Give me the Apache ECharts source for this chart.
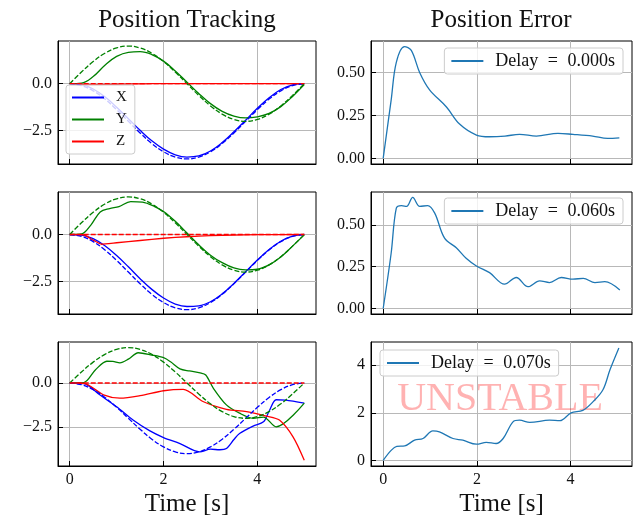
<!DOCTYPE html>
<html>
<head>
<meta charset="utf-8">
<script src="https://cdn.jsdelivr.net/npm/echarts@6/dist/echarts.min.js"></script>
<style>
html, body { margin: 0; padding: 0; background: #fff; }
#main { width: 639px; height: 521px; }
</style>
</head>
<body>
<div id="main"></div>
<script>
// reference trajectory, sampled every 0.25 s
var T = [0, 0.25, 0.5, 0.75, 1, 1.25, 1.5, 1.75, 2, 2.25, 2.5, 2.75, 3, 3.25, 3.5, 3.75, 4, 4.25, 4.5, 4.75, 5];
var xRef = [0, -0.10, -0.38, -0.82, -1.38, -2.00, -2.62, -3.18, -3.62, -3.90, -4.00, -3.90, -3.62, -3.18, -2.62, -2.00, -1.38, -0.82, -0.38, -0.10, 0];
var yRef = [0, 0.62, 1.18, 1.62, 1.90, 2.00, 1.90, 1.62, 1.18, 0.62, 0, -0.62, -1.18, -1.62, -1.90, -2.00, -1.90, -1.62, -1.18, -0.62, 0];
var zRef = [0, 0, 0, 0, 0, 0, 0, 0, 0, 0, 0, 0, 0, 0, 0, 0, 0, 0, 0, 0, 0];

// delay = 0.000 s (same time grid)
var x1 = [0, -0.04, -0.28, -0.70, -1.25, -1.86, -2.48, -3.04, -3.48, -3.78, -3.90, -3.84, -3.58, -3.13, -2.56, -1.94, -1.31, -0.75, -0.31, -0.06, 0];
var y1 = [0, 0.03, 0.38, 0.98, 1.45, 1.67, 1.70, 1.55, 1.20, 0.68, 0.08, -0.52, -1.06, -1.47, -1.72, -1.82, -1.76, -1.58, -1.22, -0.68, -0.05];
var z1 = [0, -0.04, -0.05, -0.04, -0.03, -0.02, -0.01, 0, 0, 0, 0, 0, 0, 0, 0, 0, 0, 0, 0, 0, 0];

// delay = 0.060 s
var x2 = [0, -0.03, -0.22, -0.60, -1.12, -1.72, -2.35, -2.92, -3.38, -3.70, -3.83, -3.80, -3.58, -3.16, -2.60, -1.98, -1.36, -0.80, -0.36, -0.09, 0];
var y2 = [[0, 0], [0.25, 0.03], [0.45, 0.5], [0.65, 1.2], [0.85, 1.38], [1.05, 1.48], [1.3, 1.75], [1.55, 1.72], [1.8, 1.5], [2.0, 1.22],
  [2.25, 0.7], [2.5, 0.08], [2.75, -0.55], [3.0, -1.1], [3.25, -1.5], [3.5, -1.78], [3.75, -1.88], [4.0, -1.85], [4.25, -1.62],
  [4.5, -1.2], [4.75, -0.62], [5.0, -0.02]];
var z2 = [[0, 0], [0.3, -0.02], [0.5, -0.3], [0.68, -0.52], [1.0, -0.44], [1.5, -0.32], [2.0, -0.2], [2.5, -0.12], [3.0, -0.06],
  [3.5, -0.03], [4.0, -0.01], [5.0, 0]];

// delay = 0.070 s
var x3 = [[0, 0], [0.3, -0.03], [0.64, -0.67], [1.0, -1.35], [1.35, -2.1], [1.7, -2.7], [2.0, -3.09], [2.35, -3.43], [2.77, -3.9],
  [3.0, -3.75], [3.2, -3.78], [3.34, -3.71], [3.5, -3.2], [3.62, -2.86], [3.91, -2.44], [4.13, -2.2], [4.25, -1.6], [4.4, -0.95],
  [4.6, -0.97], [5.0, -1.14]];
var y3 = [[0, 0], [0.3, 0.02], [0.55, 0.75], [0.79, 1.23], [0.92, 1.22], [1.07, 1.14], [1.25, 1.35], [1.46, 1.71], [1.75, 1.58],
  [2.0, 1.43], [2.15, 1.2], [2.35, 0.8], [2.55, 0.68], [2.78, 0.57], [2.9, 0.45], [3.06, -0.29], [3.34, -1.24], [3.62, -1.71],
  [3.91, -2.0], [4.13, -1.93], [4.4, -2.48], [5.0, -1.14]];
var z3 = [[0, 0], [0.3, -0.02], [0.72, -0.67], [1.07, -0.86], [1.5, -0.72], [2.0, -0.44], [2.42, -0.36], [2.84, -1.05],
  [3.34, -1.49], [3.77, -1.62], [4.19, -1.87], [4.47, -2.1], [4.76, -3.05], [5.0, -4.38]];

// position error
var err1 = [[0, 0], [0.17, 0.34], [0.28, 0.56], [0.455, 0.652], [0.6, 0.63], [0.78, 0.5], [0.99, 0.4], [1.35, 0.3], [1.63, 0.2],
  [1.99, 0.136], [2.27, 0.126], [2.6, 0.13], [2.91, 0.14], [3.27, 0.13], [3.73, 0.146], [4.05, 0.14], [4.47, 0.13], [4.79, 0.117], [5.04, 0.12]];
var err2 = [[0, 0], [0.17, 0.33], [0.28, 0.6], [0.39, 0.615], [0.5, 0.61], [0.63, 0.664], [0.78, 0.61], [0.95, 0.615], [1.1, 0.57],
  [1.31, 0.42], [1.56, 0.363], [1.77, 0.3], [1.99, 0.254], [2.27, 0.214], [2.59, 0.145], [2.84, 0.185], [3.09, 0.13], [3.34, 0.165],
  [3.55, 0.155], [3.8, 0.185], [4.05, 0.175], [4.27, 0.18], [4.52, 0.155], [4.73, 0.16], [5.05, 0.11]];
var err3 = [[0, 0], [0.17, 0.42], [0.29, 0.59], [0.46, 0.61], [0.67, 0.85], [0.85, 0.92], [1.06, 1.24], [1.2, 1.2], [1.49, 0.92],
  [1.7, 0.85], [1.99, 0.68], [2.2, 0.76], [2.41, 0.71], [2.56, 0.92], [2.77, 1.62], [2.91, 1.69], [3.13, 1.6], [3.55, 1.69],
  [3.77, 1.67], [4.01, 2.0], [4.26, 2.1], [4.48, 2.47], [4.69, 2.97], [4.84, 3.81], [5.03, 4.73]];

var delays = ['Delay = 0.000s', 'Delay = 0.060s', 'Delay = 0.070s'];
var xTicks = [0, 2, 4];
var yTicks = [[-2.5, 0], [0, 0.25, 0.5], [-2.5, 0], [0, 0.25, 0.5], [-2.5, 0], [0, 2, 4]];
var yLimits = [[-4.27, 2.27], [-0.033, 0.685], [-4.23, 2.26], [-0.033, 0.696], [-4.70, 2.32], [-0.237, 4.98]];

var FONT = '"Liberation Serif", "Times New Roman", serif';
var BLUE = '#0000ff', GREEN = '#008000', RED = '#ff0000', C0 = '#1f77b4';

function onGrid(arr) {
  return arr.map(function (v, i) { return [T[i], v]; });
}
function minus(s) { return s.replace('-', '\u2212'); }

var rows = [{ top: 41, height: 123 }, { top: 192, height: 122 }, { top: 342, height: 124 }];
var grids = [], xAxes = [], yAxes = [];
for (var r = 0; r < 3; r++) {
  for (var c = 0; c < 2; c++) {
    var i = r * 2 + c;
    grids.push({
      left: c ? 371 : 58, width: c ? 261 : 258, top: rows[r].top, height: rows[r].height,
      show: true, borderColor: '#000', borderWidth: 1, containLabel: false, outerBoundsMode: 'none'
    });
    xAxes.push({
      type: 'value', gridIndex: i, min: c ? -0.26 : -0.25, max: c ? 5.31 : 5.25,
      axisLine: { show: true, onZero: false, lineStyle: { color: '#000', width: 1 } },
      axisTick: { show: true, inside: true, length: 5, customValues: xTicks, lineStyle: { color: '#000', width: 1 } },
      axisLabel: { show: r === 2, customValues: xTicks, fontSize: 16, color: '#111', fontFamily: FONT, margin: 6 },
      splitLine: { show: true, lineStyle: { color: '#b8b8b8', width: 1 } },
      name: r === 2 ? 'Time [s]' : '', nameLocation: 'middle', nameGap: 26,
      nameTextStyle: { fontSize: 25, color: '#111', fontFamily: FONT }
    });
    yAxes.push({
      type: 'value', gridIndex: i, min: yLimits[i][0], max: yLimits[i][1],
      axisLine: { show: true, onZero: false, lineStyle: { color: '#000', width: 1 } },
      axisTick: { show: true, inside: true, length: 5, customValues: yTicks[i], lineStyle: { color: '#000', width: 1 } },
      axisLabel: {
        customValues: yTicks[i], fontSize: 16, color: '#111', fontFamily: FONT, margin: 6,
        formatter: (function (cc, rr) {
          return function (v) {
            if (!cc) return minus(v.toFixed(1));
            return rr === 2 ? String(v) : v.toFixed(2);
          };
        })(c, r)
      },
      splitLine: { show: true, lineStyle: { color: '#b8b8b8', width: 1 } }
    });
  }
}

function line(name, idx, data, color, dashed, smooth) {
  return {
    type: 'line', name: name, xAxisIndex: idx, yAxisIndex: idx, data: data,
    symbol: 'none', smooth: smooth, animation: false,
    lineStyle: { color: color, width: 1.3, type: dashed ? [5, 2] : 'solid' },
    itemStyle: { color: color },
    emphasis: { disabled: true },
    z: dashed ? 3 : 2
  };
}

var series = [
  line('X', 0, onGrid(x1), BLUE, false, 0.4),
  line('Y', 0, onGrid(y1), GREEN, false, 0.4),
  line('Z', 0, onGrid(z1), RED, false, 0.4),
  line('X ref 1', 0, onGrid(xRef), BLUE, true, 0.4),
  line('Y ref 1', 0, onGrid(yRef), GREEN, true, 0.4),
  line('Z ref 1', 0, onGrid(zRef), RED, true, false),

  line('X 2', 2, onGrid(x2), BLUE, false, 0.4),
  line('Y 2', 2, y2, GREEN, false, 0.35),
  line('Z 2', 2, z2, RED, false, 0.15),
  line('X ref 2', 2, onGrid(xRef), BLUE, true, 0.4),
  line('Y ref 2', 2, onGrid(yRef), GREEN, true, 0.4),
  line('Z ref 2', 2, onGrid(zRef), RED, true, false),

  line('X 3', 4, x3, BLUE, false, 0.3),
  line('Y 3', 4, y3, GREEN, false, 0.3),
  line('Z 3', 4, z3, RED, false, 0.3),
  line('X ref 3', 4, onGrid(xRef), BLUE, true, 0.4),
  line('Y ref 3', 4, onGrid(yRef), GREEN, true, 0.4),
  line('Z ref 3', 4, onGrid(zRef), RED, true, false),

  line(delays[0], 1, err1, C0, false, 0.35),
  line(delays[1], 3, err2, C0, false, 0.35),
  line(delays[2], 5, err3, C0, false, 0.35)
];

var legendBase = {
  orient: 'vertical', itemWidth: 32, itemHeight: 14, selectedMode: false,
  itemStyle: { opacity: 0 },
  backgroundColor: 'rgba(255,255,255,0.8)', borderColor: '#cccccc', borderWidth: 1, borderRadius: 3
};
function delayLegend(name, pos) {
  return Object.assign({}, legendBase, pos, {
    data: [name], padding: [4, 8, 4, 6],
    formatter: function (n) { return n.replace(' = ', ' {e|=} '); },
    textStyle: {
      fontSize: 18, color: '#111', fontFamily: FONT, padding: [0, 0, 0, 7],
      rich: { e: { fontSize: 18, color: '#111', fontFamily: FONT, padding: [0, 5] } }
    }
  });
}

var option = {
  animation: false,
  backgroundColor: '#fff',
  textStyle: { fontFamily: FONT },
  title: [
    { text: 'Position Tracking', left: 187, top: 8, textAlign: 'center', padding: 0,
      textStyle: { fontSize: 25, fontWeight: 'normal', color: '#111', fontFamily: FONT } },
    { text: 'Position Error', left: 501, top: 8, textAlign: 'center', padding: 0,
      textStyle: { fontSize: 25, fontWeight: 'normal', color: '#111', fontFamily: FONT } }
  ],
  grid: grids,
  xAxis: xAxes,
  yAxis: yAxes,
  legend: [
    Object.assign({}, legendBase, {
      left: 66, top: 85, data: ['X', 'Y', 'Z'], itemGap: 7, padding: [5, 8, 5, 5],
      textStyle: { fontSize: 15, color: '#111', fontFamily: FONT, padding: [0, 0, 0, 7] }
    }),
    delayLegend(delays[0], { right: 16, top: 48 }),
    delayLegend(delays[1], { right: 16, top: 198 }),
    delayLegend(delays[2], { left: 380, top: 350 })
  ],
  graphic: [{
    type: 'text', x: 500, y: 399, z: 1, silent: true,
    style: {
      text: 'UNSTABLE', font: '40px ' + FONT, fill: 'rgba(255,0,0,0.3)',
      textAlign: 'center', textVerticalAlign: 'middle', align: 'center', verticalAlign: 'middle'
    }
  }],
  series: series
};

var myChart = echarts.init(document.getElementById('main'));
myChart.setOption(option);
</script>
</body>
</html>
